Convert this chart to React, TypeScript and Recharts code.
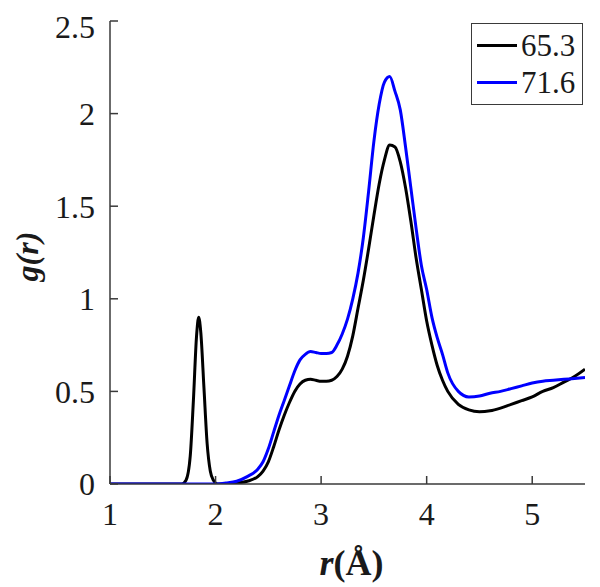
import { LineChart, Line, XAxis, YAxis, Legend } from "recharts";

const rValues = [
  1.0, 1.5, 1.68, 1.72, 1.76, 1.79, 1.82, 1.84, 1.86, 1.89, 1.92, 1.95, 1.98, 2.02,
  2.1, 2.2, 2.3, 2.4, 2.45, 2.5, 2.55, 2.6, 2.65, 2.7, 2.75, 2.8, 2.85, 2.9, 2.95,
  3.0, 3.05, 3.1, 3.15, 3.2, 3.25, 3.3, 3.35, 3.4, 3.45, 3.5, 3.55, 3.6, 3.65, 3.7,
  3.75, 3.8, 3.85, 3.9, 3.95, 4.0, 4.05, 4.1, 4.15, 4.2, 4.3, 4.4, 4.5, 4.6, 4.7,
  4.8, 4.9, 5.0, 5.1, 5.2, 5.3, 5.4, 5.5,
];

// g(r) at 65.3
const g653 = [
  0, 0, 0, 0.02, 0.15, 0.45, 0.8, 0.9, 0.82, 0.52, 0.22, 0.07, 0.02, 0,
  0, 0.005, 0.015, 0.04, 0.07, 0.12, 0.2, 0.29, 0.37, 0.44, 0.5, 0.54, 0.56, 0.565, 0.56,
  0.555, 0.555, 0.56, 0.58, 0.62, 0.69, 0.8, 0.95, 1.1, 1.27, 1.45, 1.62, 1.75, 1.83, 1.82,
  1.74, 1.6, 1.42, 1.22, 1.05, 0.88, 0.75, 0.64, 0.56, 0.5, 0.43, 0.4, 0.39, 0.395, 0.41,
  0.43, 0.45, 0.47, 0.5, 0.52, 0.55, 0.58, 0.62,
];

// g(r) at 71.6
const g716 = [
  0, 0, 0, 0, 0, 0, 0, 0, 0, 0, 0, 0, 0, 0,
  0.005, 0.015, 0.04, 0.08, 0.12, 0.19, 0.28, 0.37, 0.45, 0.53, 0.61, 0.67, 0.7, 0.715, 0.71,
  0.705, 0.705, 0.71, 0.75, 0.81, 0.89, 1.0, 1.14, 1.33, 1.58, 1.85, 2.05, 2.17, 2.2, 2.12,
  2.02, 1.82, 1.6, 1.38, 1.18, 1.05, 0.9, 0.79, 0.7, 0.6, 0.5, 0.47, 0.475, 0.49, 0.5,
  0.515, 0.53, 0.545, 0.555, 0.56, 0.565, 0.57, 0.575,
];

const xTicks = [1, 2, 3, 4, 5];
const yTicks = [0, 0.5, 1, 1.5, 2, 2.5];

const series = [
  { key: "g653", name: "65.3", color: "#000000" },
  { key: "g716", name: "71.6", color: "#0000ff" },
];

const data = rValues.map((r, i) => ({ r, g653: g653[i], g716: g716[i] }));

const font = "Liberation Serif";
const axisColor = "#3a3a3a";
const tickStyle = { fontSize: 32, fill: "#1a1a1a", fontFamily: font };

function LegendBox() {
  return (
    <div
      style={{
        border: `1.5px solid ${axisColor}`,
        background: "#fff",
        width: 112,
        height: 82,
        boxSizing: "border-box",
        paddingTop: 3,
        fontFamily: font,
      }}
    >
      {series.map((s) => (
        <div key={s.key} style={{ display: "flex", alignItems: "center", height: 37 }}>
          <div style={{ width: 40, height: 3, background: s.color, marginLeft: 5, marginRight: 4 }} />
          <span style={{ fontSize: 31, color: "#1a1a1a", lineHeight: "37px" }}>{s.name}</span>
        </div>
      ))}
    </div>
  );
}

export default function App() {
  return (
    <LineChart width={592} height={579} data={data} margin={{ top: 13, right: 15, bottom: 0, left: 0 }}>
      <XAxis
        dataKey="r"
        type="number"
        domain={[1, 5.5]}
        ticks={xTicks}
        allowDataOverflow
        height={103}
        tickSize={-8}
        tickMargin={26}
        stroke={axisColor}
        strokeWidth={1.5}
        tick={tickStyle}
        label={{
          content: (props: any) => {
            const vb = props.viewBox;
            return (
              <text x={vb.x + vb.width / 2 + 4} y={vb.y + 91} textAnchor="middle" fontFamily={font} fontSize={36} fontWeight="bold" fill="#1a1a1a">
                <tspan fontStyle="italic">r</tspan>
                <tspan>(Å)</tspan>
              </text>
            );
          },
        }}
      />
      <XAxis
        xAxisId="top"
        orientation="top"
        type="number"
        domain={[1, 5.5]}
        ticks={xTicks}
        allowDataOverflow
        height={0}
        tickSize={-8}
        stroke={axisColor}
        strokeWidth={1.5}
        tickFormatter={() => ""}
      />
      <YAxis
        type="number"
        domain={[0, 2.5]}
        ticks={yTicks}
        allowDataOverflow
        width={102}
        tickSize={-8}
        tickMargin={23}
        stroke={axisColor}
        strokeWidth={1.5}
        tick={tickStyle}
        label={{
          content: (props: any) => {
            const vb = props.viewBox;
            const cx = vb.x + 19;
            const cy = vb.y + vb.height / 2 + 4;
            return (
              <text
                x={cx}
                y={cy}
                transform={`rotate(-90 ${cx} ${cy})`}
                textAnchor="middle"
                dominantBaseline="central"
                fontFamily={font}
                fontSize={32}
                fontWeight="bold"
                fontStyle="italic"
                fill="#1a1a1a"
              >
                g(r)
              </text>
            );
          },
        }}
      />
      <YAxis
        yAxisId="right"
        orientation="right"
        type="number"
        domain={[0, 2.5]}
        ticks={yTicks}
        allowDataOverflow
        width={0}
        tickSize={-8}
        stroke={axisColor}
        strokeWidth={1.5}
        tickFormatter={() => ""}
      />
      <Legend
        layout="vertical"
        align="center"
        verticalAlign="middle"
        content={() => <LegendBox />}
        wrapperStyle={{ left: 463, top: 15, width: 112, height: 82 }}
      />
      {series.map((s) => (
        <Line
          key={s.key}
          dataKey={s.key}
          name={s.name}
          type="monotone"
          stroke={s.color}
          strokeWidth={3}
          dot={false}
          isAnimationActive={false}
        />
      ))}
    </LineChart>
  );
}
